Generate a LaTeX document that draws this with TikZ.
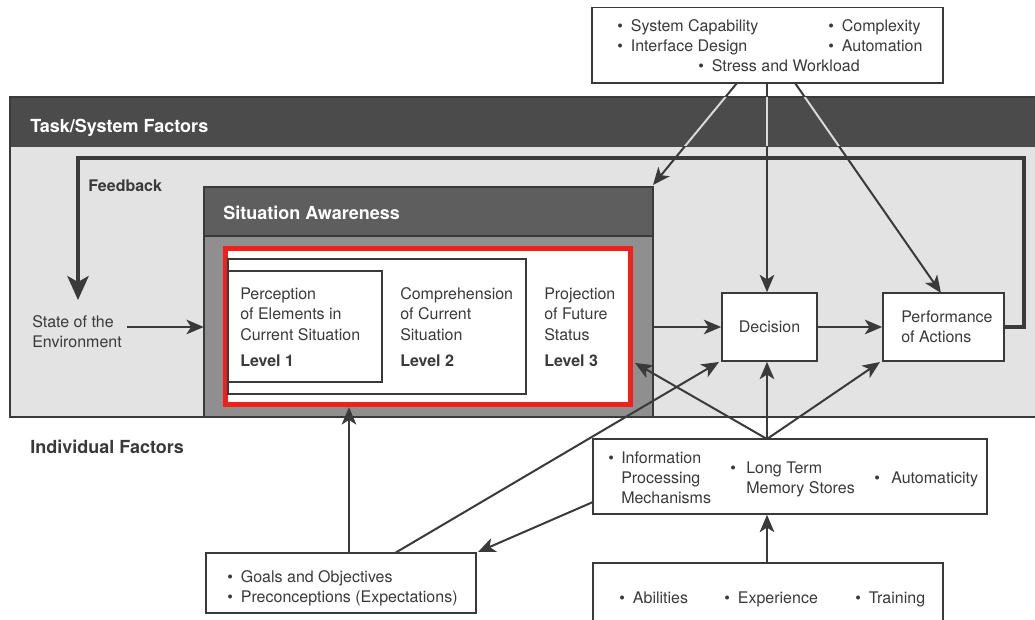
\documentclass[tikz,border=0pt]{standalone}
\usepackage{fontspec}
\setmainfont{TeX Gyre Heros}
\usetikzlibrary{arrows.meta,fit}
\definecolor{ink}{HTML}{3A3A3A}
\definecolor{band}{HTML}{4B4B4B}
\definecolor{sahead}{HTML}{5E5E5E}
\definecolor{sabody}{HTML}{8F8F8F}
\definecolor{field}{HTML}{E3E3E3}
\definecolor{alert}{HTML}{F0201A}
\definecolor{pale}{HTML}{DADADA}
\begin{document}
\begin{tikzpicture}[x=0.75pt,y=-0.75pt,
  font=\fontsize{12}{15}\selectfont,
  lbl/.style={anchor=base west,inner sep=0pt,text=ink},
  lblb/.style={lbl,font=\fontsize{12}{15}\selectfont\bfseries},
  head/.style={anchor=base west,inner sep=0pt,font=\fontsize{13.5}{16}\selectfont\bfseries},
  box/.style={draw=ink,line width=1.3pt,fill=white,inner sep=0pt},
  area/.style={inner sep=0pt},
  arr/.style={draw=ink,line width=1.5pt,-{Stealth[length=13pt,width=11pt,inset=3.5pt]}},
  paleline/.style={draw=pale,line width=1.5pt},
]
\path[use as bounding box,fill=white] (0,0) rectangle (1035,620);

% Task/System factors band and field
\fill[field] (10,147) rectangle (1035,417);
\fill[band] (10,97) rectangle (1035,147);
\draw[ink,line width=1pt] (1035,97) -- (10,97) -- (10,417) -- (1035,417);
\node[area,fit={(10,97) (1035,417)}] (task) {};
\node[head,text=white] (tasktitle) at (30,133) {Task/System Factors};

% Situation awareness block
\fill[sahead] (204,187) rectangle (653,236);
\fill[sabody] (204,236) rectangle (653,417);
\draw[ink,line width=1pt] (204,187) rectangle (653,417);
\draw[ink,line width=1pt] (204,236) -- (653,236);
\node[area,fit={(204,187) (653,417)}] (sa) {};
\node[head,text=white] (satitle) at (223,220) {Situation Awareness};

% Levels of SA
\fill[white] (223,246) rectangle (633,407);
\draw[alert,line width=3.4pt] (225.5,248.5) rectangle (630.5,404.5);
\node[area,fit={(223,246) (633,407)}] (levels) {};
\draw[ink,line width=1.2pt] (228,259) rectangle (526,394);
\draw[ink,line width=1.2pt] (228,271) rectangle (382,382);
\node[area,fit={(228,271) (382,382)}] (lvone) {};

\node[lbl] (p1) at (240,300) {Perception};
\node[lbl] (p2) at (240,320) {of Elements in};
\node[lbl] (p3) at (240,340) {Current Situation};
\node[lblb] (p4) at (240,366) {Level 1};
\node[lbl] (c1) at (400,300) {Comprehension};
\node[lbl] (c2) at (400,320) {of Current};
\node[lbl] (c3) at (400,340) {Situation};
\node[lblb] (c4) at (400,366) {Level 2};
\node[lbl] (f1) at (544,300) {Projection};
\node[lbl] (f2) at (544,320) {of Future};
\node[lbl] (f3) at (544,340) {Status};
\node[lblb] (f4) at (544,366) {Level 3};

% Environment
\node[lbl] (env1) at (32,327) {State of the};
\node[lbl] (env2) at (32,347) {Environment};
\node[lblb] (fb) at (88,192) {Feedback};

% Decision and action
\node[box,fit={(722,293) (817,361)}] (dec) {};
\node[text=ink,inner sep=0pt] (dectext) at (dec.center) {Decision};
\node[box,fit={(883,293) (1004,361)}] (perf) {};
\node[lbl] (pa1) at (901,322.5) {Performance};
\node[lbl] (pa2) at (901,342.5) {of Actions};

% System factors
\node[box,fit={(592,7.5) (943,83)}] (sys) {};
\node[lbl] (s1) at (617,31.5) {•\hspace{6pt}System Capability};
\node[lbl] (s2) at (828,31.5) {•\hspace{6pt}Complexity};
\node[lbl] (s3) at (617,51.5) {•\hspace{6pt}Interface Design};
\node[lbl] (s4) at (828,51.5) {•\hspace{6pt}Automation};
\node[lbl] (s5) at (698,71.5) {•\hspace{6pt}Stress and Workload};

% Individual factors
\node[head,text=ink] (indtitle) at (30,453) {Individual Factors};

\node[box,fit={(593,439) (987,514)}] (info) {};
\node[lbl] (i1) at (608,463) {•};
\node[lbl] (i2) at (621,463) {Information};
\node[lbl] (i3) at (621,483) {Processing};
\node[lbl] (i4) at (621,503) {Mechanisms};
\node[lbl] (m1) at (730,473) {•};
\node[lbl] (m2) at (746,473) {Long Term};
\node[lbl] (m3) at (746,493) {Memory Stores};
\node[lbl] (a1) at (874,483) {•};
\node[lbl] (a2) at (891,483) {Automaticity};

\node[box,fit={(206,553) (476,613)}] (goals) {};
\node[lbl] (g1) at (227,582.5) {•\hspace{6pt}Goals and Objectives};
\node[lbl] (g2) at (227,602.5) {•\hspace{6pt}Preconceptions (Expectations)};

\node[box,fit={(593,563) (943,630)}] (abil) {};
\node[lbl] (b1) at (619,603.5) {•\hspace{6pt}Abilities};
\node[lbl] (b2) at (724,603.5) {•\hspace{6pt}Experience};
\node[lbl] (b3) at (855,603.5) {•\hspace{6pt}Training};

% Connector end points
\coordinate (sysA) at (737,83);
\coordinate (sysB) at (767,83);
\coordinate (sysC) at (795,83);
\coordinate (saCorner) at (653,185);
\coordinate (perfTop) at (941,293);
\coordinate (envOut) at (127,327);
\coordinate (fbA) at (1024,327);
\coordinate (fbB) at (1024,158);
\coordinate (fbC) at (78,158);
\coordinate (fbEnd) at (78,300);
\coordinate (infoTop) at (767,439);
\coordinate (lvThree) at (635,363);
\coordinate (perfLow) at (880,362);
\coordinate (decLow) at (719,362);
\coordinate (goalsA) at (349,553);
\coordinate (goalsB) at (395,553);
\coordinate (goalsC) at (478,552);
\coordinate (infoLeft) at (593,502);
\coordinate (abilTop) at (767,563);

% Feedback loop
\draw[ink,line width=2.6pt,-{Stealth[length=18pt,width=16pt,inset=4.5pt]}]
  (perf.east |- fbA) -- (fbA) -- (fbB) -- (fbC) -- (fbEnd);

% Connectors
\draw[arr] (sysA) -- (saCorner);
\draw[arr] (sysB) -- (dec.north -| sysB);
\draw[arr] (sysC) -- (perfTop);
% the three connectors show light where they cross the dark band
\begin{scope}
  \clip (10,98) rectangle (1035,146);
  \draw[paleline] (sysA) -- (saCorner);
  \draw[paleline] (sysB) -- (dec.north -| sysB);
  \draw[paleline] (sysC) -- (perfTop);
\end{scope}
\draw[arr] (envOut) -- (sa.west |- envOut);
\draw[arr] (sa.east |- dec.center) -- (dec.west);
\draw[arr] (dec.east) -- (perf.west);
\draw[arr] (infoTop) -- (dec.south -| infoTop);
\draw[arr] (infoTop) -- (lvThree);
\draw[arr] (infoTop) -- (perfLow);
\draw[arr] (goalsB) -- (decLow);
\draw[arr] (goalsA) -- (levels.south -| goalsA);
\draw[arr] (infoLeft) -- (goalsC);
\draw[arr] (abilTop) -- (info.south -| abilTop);
\end{tikzpicture}
\end{document}
